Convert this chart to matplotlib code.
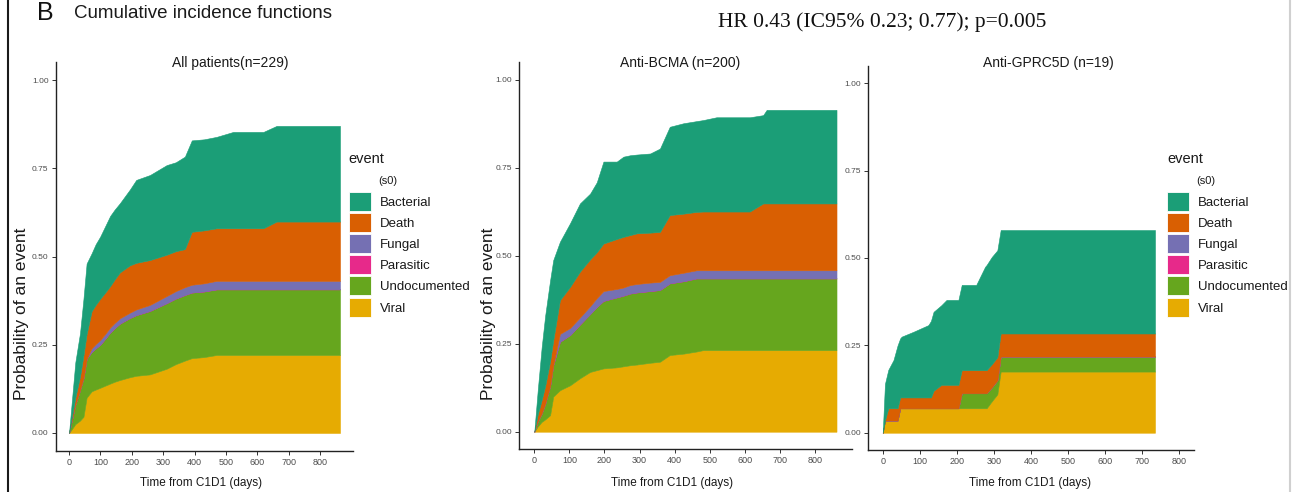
import matplotlib
matplotlib.use("Agg")
import matplotlib.pyplot as plt
from matplotlib.patches import Rectangle
from matplotlib.lines import Line2D

plt.rcParams['font.family'] = ['Liberation Sans', 'DejaVu Sans']

W, H = 1308, 492

# Event types (legend order) and their colours (Dark2)
causes = ["Bacterial", "Death", "Fungal", "Parasitic", "Undocumented", "Viral"]
cause_colors = ["#1B9E77", "#D95F02", "#7570B3", "#E7298A", "#66A61E", "#E6AB02"]

panel_titles = ["All patients(n=229)", "Anti-BCMA (n=200)", "Anti-GPRC5D (n=19)"]
x_ticks = [0, 100, 200, 300, 400, 500, 600, 700, 800]
y_ticks = [0.00, 0.25, 0.50, 0.75, 1.00]
y_tick_labels = ["0.00", "0.25", "0.50", "0.75", "1.00"]

# --- All patients: cumulative incidence of each event type ---
all_days = [0, 10, 20, 35, 46, 56, 72, 85, 99, 115, 131, 145, 162, 194, 214, 258, 311,
            340, 369, 391, 430, 470, 523, 619, 661, 863]
all_viral = [0, .012, .025, .035, .046, .100, .118, .123, .128, .134, .140, .145, .150,
             .158, .162, .166, .182, .195, .205, .212, .215, .221, .221, .221, .221, .221]
all_undocumented = [0, .028, .055, .087, .110, .110, .112, .117, .122, .133, .145, .152,
                    .160, .168, .172, .180, .186, .186, .186, .186, .186, .186, .186,
                    .186, .186, .186]
all_parasitic = [0] * 26
all_fungal = [0, 0, 0, 0, 0, 0, .010, .012, .013, .0135, .014, .0145, .015, .015, .016,
              .017, .020, .021, .022, .022, .023, .024, .024, .024, .024, .024]
all_death = [0, .010, .020, .038, .064, .070, .105, .111, .117, .117, .117, .123, .130,
             .134, .132, .127, .117, .113, .108, .150, .150, .149, .149, .149, .168, .168]
all_bacterial = [0, .050, .100, .123, .160, .200, .164, .172, .176, .188, .199, .198,
                 .196, .215, .235, .241, .254, .252, .262, .259, .258, .259, .273, .273,
                 .271, .271]

# --- Anti-BCMA ---
bcma_days = [0, 10, 21, 31, 45, 54, 73, 102, 130, 159, 178, 197, 235, 254, 273, 292,
             330, 358, 386, 425, 462, 481, 519, 614, 652, 662, 861]
bcma_viral = [0, .015, .028, .035, .047, .100, .118, .132, .152, .170, .175, .180, .183,
              .186, .189, .191, .196, .199, .218, .222, .228, .232, .232, .232, .232,
              .232, .232]
bcma_undocumented = [0, .015, .024, .045, .083, .090, .138, .143, .153, .165, .180, .192,
                     .199, .201, .204, .205, .204, .204, .204, .206, .208, .204, .204,
                     .204, .204, .204, .204]
bcma_parasitic = [0] * 27
bcma_fungal = [0, 0, 0, 0, 0, 0, .022, .020, .020, .022, .025, .028, .024, .023, .024,
               .024, .024, .023, .023, .024, .023, .023, .023, .023, .023, .023, .023]
bcma_death = [0, .020, .038, .050, .070, .070, .096, .117, .130, .133, .130, .135, .142,
              .144, .142, .144, .142, .142, .171, .168, .166, .167, .167, .167, .190,
              .190, .190]
bcma_bacterial = [0, .070, .150, .200, .230, .228, .166, .181, .194, .187, .199, .233,
                  .220, .228, .227, .224, .225, .237, .251, .257, .258, .260, .268, .268,
                  .251, .266, .266]

# --- Anti-GPRC5D ---
gprc_days = [0, 6, 15, 29, 40, 47, 51, 83, 123, 130, 137, 158, 172, 204, 213, 252, 276,
             280, 294, 309, 318, 734]
gprc_viral = [0, .035, .035, .035, .035, .070, .070, .070, .070, .070, .070, .070, .070,
              .070, .070, .070, .070, .070, .090, .110, .175, .175]
gprc_undocumented = [0, 0, 0, 0, 0, 0, 0, 0, 0, 0, 0, 0, 0, 0, .043, .043, .043, .043,
                     .040, .040, .043, .043]
gprc_parasitic = [0] * 22
gprc_fungal = [0] * 22
gprc_death = [0, 0, .035, .035, .035, .031, .031, .031, .031, .031, .050, .067, .067,
              .067, .066, .066, .066, .066, .066, .066, .066, .066]
gprc_bacterial = [0, .105, .110, .138, .180, .169, .174, .188, .207, .219, .226, .228,
                  .243, .243, .244, .244, .296, .301, .307, .306, .296, .296]

panels = [
    (all_days, all_viral, all_undocumented, all_parasitic, all_fungal, all_death, all_bacterial),
    (bcma_days, bcma_viral, bcma_undocumented, bcma_parasitic, bcma_fungal, bcma_death, bcma_bacterial),
    (gprc_days, gprc_viral, gprc_undocumented, gprc_parasitic, gprc_fungal, gprc_death, gprc_bacterial),
]

# axes boxes in pixels: left, top, right, bottom ; x limits
boxes = [(55.5, 62.4, 353.2, 450.6), (519.2, 62.4, 851.6, 449.3), (867.9, 65.8, 1194.3, 450.2)]
xlims = [(-43.1, 905.1), (-43.0, 904.0), (-40.0, 840.0)]
title_x = [230, 680, 1048]
xlabel_x = [201, 672, 1030]

fig = plt.figure(figsize=(W / 100, H / 100), dpi=100)
fig.patch.set_facecolor("white")


def fx(x):
    return x / W


def fy(y):
    return 1 - y / H


# stacking order: bottom to top is the reverse of the legend order
stack_colors = cause_colors[::-1]

for i, (data, box, xl) in enumerate(zip(panels, boxes, xlims)):
    l, t, r, b = box
    ax = fig.add_axes([fx(l), fy(b), (r - l) / W, (b - t) / H])
    days = data[0]
    layers = data[1:]
    polys = ax.stackplot(days, *layers, colors=stack_colors)
    for p, c in zip(polys, stack_colors):
        p.set_edgecolor(c)
        p.set_linewidth(0.4)
    ax.set_xlim(*xl)
    ax.set_ylim(-0.05, 1.05)
    ax.set_xticks(x_ticks)
    ax.set_xticklabels([str(v) for v in x_ticks])
    ax.set_yticks(y_ticks)
    ax.set_yticklabels(y_tick_labels)
    for s in ("top", "right"):
        ax.spines[s].set_visible(False)
    for s in ("left", "bottom"):
        ax.spines[s].set_color("#222222")
        ax.spines[s].set_linewidth(1.0)
    ax.tick_params(axis="both", length=2.8, width=0.7, color="#333333",
                   labelcolor="#4D4D4D", pad=2.2)
    ax.tick_params(axis="x", labelsize=6.5)
    ax.tick_params(axis="y", labelsize=6)
    ax.set_facecolor("white")

    fig.text(fx(title_x[i]), fy(66.5), panel_titles[i], ha="center", va="baseline",
             fontsize=10, color="#1a1a1a")
    fig.text(fx(xlabel_x[i]), fy(486), "Time from C1D1 (days)", ha="center",
             va="baseline", fontsize=8.5, color="#1a1a1a")

# y-axis titles (first two panels)
for x in (22, 488):
    fig.text(fx(x), fy(314), "Probability of an event", rotation=90, ha="center",
             va="center", fontsize=12.5, color="#1a1a1a")

# legends beside the first and last panels
for key_x, title_x0, sub_x0, lab_x in ((349, 348, 378, 380), (1167, 1167, 1196, 1198)):
    fig.text(fx(title_x0), fy(163), "event", ha="left", va="baseline", fontsize=10.5,
             color="#1a1a1a")
    fig.text(fx(sub_x0), fy(184), "(s0)", ha="left", va="baseline", fontsize=8,
             color="#1a1a1a")
    for k, (name, col) in enumerate(zip(causes, cause_colors)):
        y_top = 192 + k * 21.1
        fig.add_artist(Rectangle((fx(key_x), fy(y_top + 19)), 22 / W, 19 / H,
                                 transform=fig.transFigure, facecolor=col,
                                 edgecolor="white", linewidth=0.6))
        fig.text(fx(lab_x), fy(y_top + 9.5), name, ha="left", va="center_baseline",
                 fontsize=9.5, color="#1a1a1a")

# figure headings
fig.text(fx(37), fy(20), "B", ha="left", va="baseline", fontsize=18, color="#111111")
fig.text(fx(74), fy(18.5), "Cumulative incidence functions", ha="left", va="baseline",
         fontsize=13.5, color="#1a1a1a")
fig.text(fx(882), fy(27), "HR 0.43 (IC95% 0.23; 0.77); p=0.005", ha="center",
         va="baseline", fontsize=15.5, color="#111111",
         family=["Liberation Serif", "DejaVu Serif"])

# frame lines
fig.add_artist(Line2D([fx(8), fx(8)], [0, 1], color="#1a1a1a", linewidth=1.5,
                      transform=fig.transFigure))
fig.add_artist(Line2D([fx(1290), fx(1290)], [0, 1], color="#d0d0d0", linewidth=1.5,
                      transform=fig.transFigure))

fig.savefig("out.png", dpi=100, facecolor="white")
